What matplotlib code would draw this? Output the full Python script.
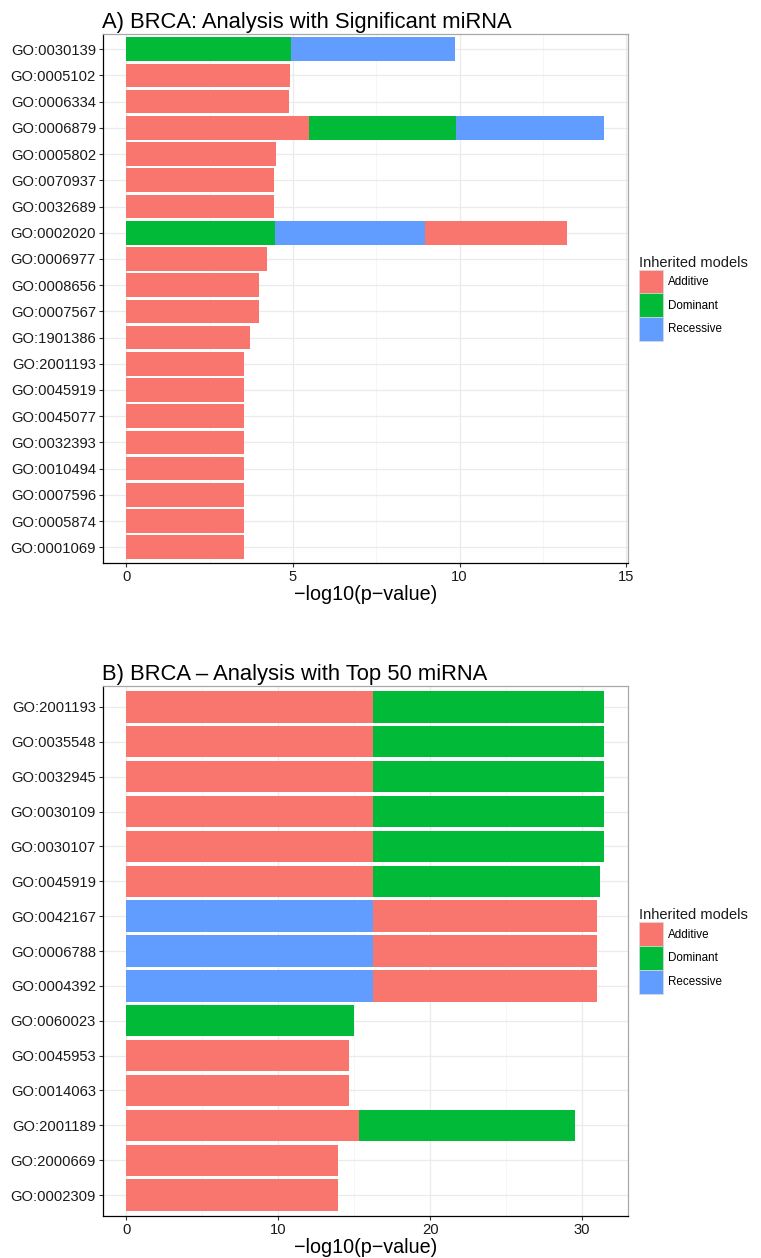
import numpy as np
import matplotlib
matplotlib.use("Agg")
import matplotlib.pyplot as plt
from matplotlib.patches import Patch
from matplotlib.ticker import MultipleLocator

plt.rcParams['font.family'] = ['Liberation Sans', 'DejaVu Sans']

# model colours (ggplot default hue palette)
model_names = ["Additive", "Dominant", "Recessive"]
model_colors = {"Additive": "#F8766D", "Dominant": "#00BA38", "Recessive": "#619CFF"}

# A) significant miRNA
terms_a = ["GO:0030139", "GO:0005102", "GO:0006334", "GO:0006879", "GO:0005802",
           "GO:0070937", "GO:0032689", "GO:0002020", "GO:0006977", "GO:0008656",
           "GO:0007567", "GO:1901386", "GO:2001193", "GO:0045919", "GO:0045077",
           "GO:0032393", "GO:0010494", "GO:0007596", "GO:0005874", "GO:0001069"]
models_a = [["Dominant", "Recessive"], ["Additive"], ["Additive"],
            ["Additive", "Dominant", "Recessive"], ["Additive"], ["Additive"],
            ["Additive"], ["Dominant", "Recessive", "Additive"], ["Additive"],
            ["Additive"], ["Additive"], ["Additive"], ["Additive"], ["Additive"],
            ["Additive"], ["Additive"], ["Additive"], ["Additive"], ["Additive"],
            ["Additive"]]
values_a = [[4.93, 4.92], [4.92], [4.88], [5.49, 4.41, 4.44], [4.50], [4.43],
            [4.43], [4.47, 4.49, 4.27], [4.23], [3.99], [3.99], [3.72], [3.54],
            [3.54], [3.54], [3.54], [3.54], [3.54], [3.54], [3.54]]

# B) top 50 miRNA
terms_b = ["GO:2001193", "GO:0035548", "GO:0032945", "GO:0030109", "GO:0030107",
           "GO:0045919", "GO:0042167", "GO:0006788", "GO:0004392", "GO:0060023",
           "GO:0045953", "GO:0014063", "GO:2001189", "GO:2000669", "GO:0002309"]
models_b = [["Additive", "Dominant"]] * 6 + [["Recessive", "Additive"]] * 3 + \
           [["Dominant"], ["Additive"], ["Additive"], ["Additive", "Dominant"],
            ["Additive"], ["Additive"]]
values_b = [[16.21, 15.25], [16.21, 15.25], [16.21, 15.25], [16.21, 15.25],
            [16.21, 15.25], [16.21, 15.00], [16.21, 14.81], [16.21, 14.81],
            [16.21, 14.81], [14.97], [14.64], [14.64], [15.30, 14.26], [13.93],
            [13.93]]

W, H = 761, 1258
fig = plt.figure(figsize=(W / 100, H / 100), dpi=100)


def px_axes(left, top, right, bottom):
    return fig.add_axes([left / W, 1 - bottom / H, (right - left) / W, (bottom - top) / H])


def draw_panel(ax, title, terms, models, values, major):
    n = len(terms)
    ypos = np.arange(n)
    totals = []
    for i in range(n):
        left = 0.0
        for m, v in zip(models[i], values[i]):
            ax.barh(ypos[i], v, left=left, height=0.9, color=model_colors[m],
                    edgecolor='none', zorder=3)
            left += v
        totals.append(left)
    xmax = max(totals)
    ax.set_xlim(-0.05 * xmax, 1.05 * xmax)
    ax.set_ylim(n - 1 + 0.6, -0.6)
    ax.set_yticks(ypos)
    ax.set_yticklabels(terms)
    ax.xaxis.set_major_locator(MultipleLocator(major))
    ax.xaxis.set_minor_locator(MultipleLocator(major / 2))
    ax.grid(which='major', axis='both', color='#EBEBEB', lw=0.9, zorder=0)
    ax.grid(which='minor', axis='x', color='#F3F3F3', lw=0.5, zorder=0)
    ax.tick_params(axis='both', which='major', labelsize=10.6, length=3.2,
                   width=0.8, pad=1.5, color='#333333', labelcolor='#1A1A1A')
    ax.tick_params(axis='x', which='minor', length=0)
    for s in ['top', 'right']:
        ax.spines[s].set_color('#A8A8A8')
        ax.spines[s].set_linewidth(0.9)
    for s in ['left', 'bottom']:
        ax.spines[s].set_color('black')
        ax.spines[s].set_linewidth(0.9)
    ax.set_axisbelow(True)
    ax.set_xlabel("\u2212log10(p\u2212value)", fontsize=14.2, labelpad=1)
    ax.set_title(title, loc='left', fontsize=15.8, pad=4)
    handles = [Patch(facecolor=model_colors[m], edgecolor='#DADADA', linewidth=0.5)
               for m in model_names]
    leg = ax.legend(handles=handles, labels=model_names, title="Inherited models",
                    loc='center left', bbox_to_anchor=(1.0215, 0.5), frameon=False,
                    fontsize=8.4, title_fontsize=10.5, handlelength=2.0,
                    handleheight=2.75, labelspacing=0, handletextpad=0.5,
                    borderpad=0, borderaxespad=0, alignment='left')
    leg.get_title().set_color('#1A1A1A')
    return leg


ax_a = px_axes(102.5, 33.5, 628, 563)
draw_panel(ax_a, "A) BRCA: Analysis with Significant miRNA", terms_a, models_a, values_a, 5)

ax_b = px_axes(102.5, 686, 628, 1216)
draw_panel(ax_b, "B) BRCA \u2013 Analysis with Top 50 miRNA", terms_b, models_b, values_b, 10)

fig.savefig("out.png", dpi=100)
